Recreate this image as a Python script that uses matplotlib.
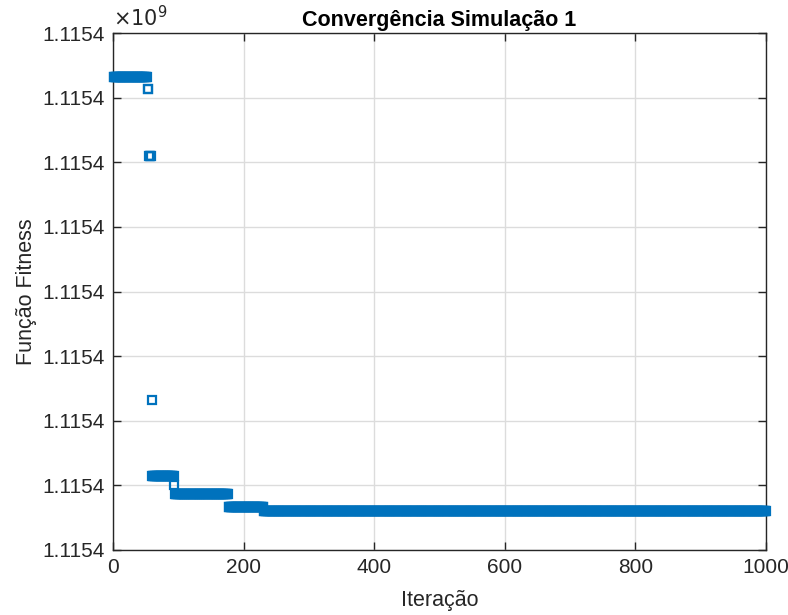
import numpy as np
import matplotlib.pyplot as plt
from matplotlib.ticker import FuncFormatter

plt.rcParams['font.family'] = ['Liberation Sans', 'DejaVu Sans']

# fitness step segments: first iteration, last iteration, value
seg_start = [1, 53, 55, 59, 60, 94, 95, 177, 231]
seg_end = [52, 54, 58, 59, 93, 94, 176, 230, 1000]
seg_value = [1115400003.66, 1115400003.57, 1115400003.05, 1115400001.16,
             1115400000.575, 1115400000.505, 1115400000.435, 1115400000.335,
             1115400000.30]

y_ticks = [1115400000 + 0.5 * k for k in range(9)]
x_ticks = [0, 200, 400, 600, 800, 1000]

# one fitness value per iteration
iteracao = []
fitness = []
for a, b, v in zip(seg_start, seg_end, seg_value):
    for it in range(a, b + 1):
        iteracao.append(it)
        fitness.append(v)

fig = plt.figure(figsize=(7.88, 6.15), dpi=100)
ax = fig.add_axes([0.1434, 0.1057, 0.8286, 0.8406])

ax.plot(iteracao, fitness, 's', color='#0072BD', markerfacecolor='none',
        markersize=6.4, markeredgewidth=1.6, clip_on=False, zorder=3)

ax.set_xlim(0, 1000)
ax.set_ylim(y_ticks[0], y_ticks[-1])
ax.set_xticks(x_ticks)
ax.set_yticks(y_ticks)
ax.yaxis.set_major_formatter(FuncFormatter(lambda v, p: '%.4f' % (v / 1e9)))

ax.grid(True, color='#dcdcdc', linewidth=1)
ax.set_axisbelow(True)
for s in ax.spines.values():
    s.set_color('#262626')
    s.set_linewidth(1)
ax.tick_params(direction='in', length=6, width=1, colors='#262626',
               labelsize=15, top=True, right=True, pad=6)

ax.set_title('Convergência Simulação 1', fontsize=15.5, fontweight='bold', pad=5)
ax.set_xlabel('Iteração', fontsize=15.5, color='#262626', labelpad=9)
ax.set_ylabel('Função Fitness', fontsize=15.5, color='#262626', labelpad=4)
ax.text(0, 1.006, r'$\times10^{9}$', transform=ax.transAxes, fontsize=15,
        color='#262626', ha='left', va='bottom')

fig.savefig('out.png', dpi=100)
